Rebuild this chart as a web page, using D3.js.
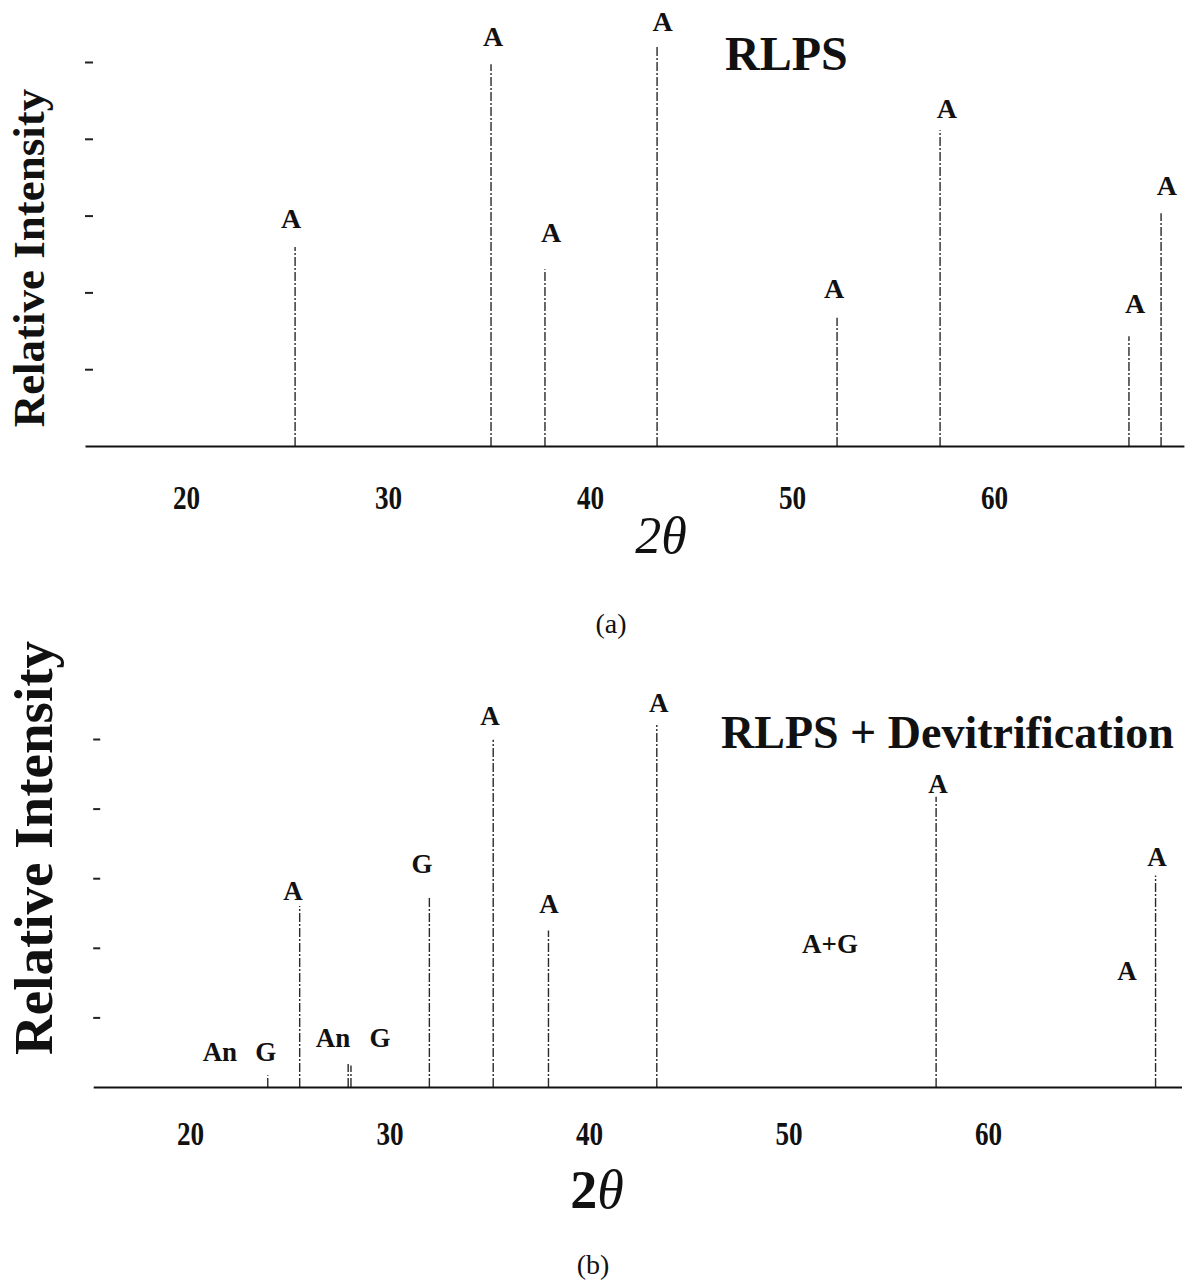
<!DOCTYPE html>
<html>
<head>
<meta charset="utf-8">
<script src="https://cdn.jsdelivr.net/npm/d3@7"></script>
<style>
  html, body { margin: 0; padding: 0; background: #fff; }
  svg { display: block; }
  text { font-family: "Liberation Serif", "DejaVu Serif", serif; fill: #111; }
</style>
</head>
<body>
<svg id="chart" width="1188" height="1285"></svg>
<script>
// X-ray diffraction stick patterns: 2θ (degrees) vs relative intensity
const xTickValues = [20, 30, 40, 50, 60];
const yTickValues = [1, 2, 3, 4, 5];

// (a) RLPS
const rlpsTheta     = [25.40, 35.10, 37.77, 43.32, 52.23, 57.33, 66.68, 68.27];
const rlpsIntensity = [2.59, 4.97, 2.30, 5.22, 1.67, 4.11, 1.43, 3.03];
const rlpsLabelText  = ["A", "A", "A", "A", "A", "A", "A", "A"];
const rlpsLabelTheta = [25.20, 35.20, 38.07, 43.60, 52.08, 57.67, 66.98, 68.56];
const rlpsLabelLevel = [2.84, 5.21, 2.66, 5.40, 1.93, 4.27, 1.73, 3.27];

// (b) RLPS + Devitrification
const devitTheta     = [23.90, 25.50, 27.93, 28.07, 32.00, 35.20, 37.97, 43.40, 57.40, 68.40];
const devitIntensity = [0.17, 2.60, 0.33, 0.31, 2.72, 4.99, 2.25, 5.20, 4.17, 3.04];
const devitLabelText  = ["An", "G", "A", "An", "G", "G", "A", "A", "A", "A+G", "A", "A", "A"];
const devitLabelTheta = [21.50, 23.80, 25.16, 27.17, 29.52, 31.63, 35.04, 38.00, 43.50, 52.08, 57.49, 66.97, 68.47];
const devitLabelLevel = [0.37, 0.37, 2.69, 0.57, 0.57, 3.07, 5.20, 2.50, 5.39, 1.93, 4.22, 1.54, 3.18];

const svg = d3.select("#chart");

function drawPanel(cfg) {
  const x = d3.scaleLinear().domain(cfg.xDomain).range(cfg.xRange);
  const y = d3.scaleLinear().domain([0, 5]).range(cfg.yRange);
  const g = svg.append("g");

  // intensity tick marks (no axis line, no labels)
  const yAxis = g.append("g")
    .attr("transform", `translate(${cfg.xRange[0]},0)`)
    .call(d3.axisRight(y).tickValues(yTickValues).tickSize(cfg.yTickSize).tickFormat(""));
  yAxis.select(".domain").remove();
  yAxis.selectAll(".tick line").attr("stroke", "#222").attr("stroke-width", 2);

  // peaks
  g.append("g").selectAll("line")
    .data(cfg.theta.map((t, i) => ({ t, v: cfg.intensity[i] })))
    .join("line")
    .attr("x1", d => x(d.t)).attr("x2", d => x(d.t))
    .attr("y1", y(0)).attr("y2", d => y(d.v))
    .attr("stroke", "#2a2a2a")
    .attr("stroke-width", 1.4)
    .attr("stroke-dasharray", "9,2,2,2");

  // 2θ axis
  const xAxis = g.append("g")
    .attr("transform", `translate(0,${cfg.yRange[0]})`)
    .call(d3.axisBottom(x).tickValues(xTickValues).tickSize(0).tickSizeOuter(0).tickPadding(0));
  xAxis.select(".domain").attr("stroke", "#111").attr("stroke-width", 2.2);
  xAxis.selectAll(".tick text")
    .attr("y", 0).attr("dy", 0)
    .attr("transform", `translate(0,${cfg.tickLabelDy}) scale(0.8,1)`)
    .style("font-size", "34px")
    .style("font-weight", "bold")
    .style("font-family", '"Liberation Serif", serif')
    .attr("fill", "#111");

  // phase labels
  g.append("g").selectAll("text")
    .data(cfg.labelText.map((s, i) => ({ s, t: cfg.labelTheta[i], v: cfg.labelLevel[i] })))
    .join("text")
    .attr("x", d => x(d.t))
    .attr("y", d => y(d.v))
    .attr("text-anchor", "middle")
    .style("font-size", cfg.labelSize + "px")
    .style("font-weight", "bold")
    .text(d => d.s);

  // title
  g.append("text")
    .attr("x", cfg.titleX).attr("y", cfg.titleY)
    .style("font-size", cfg.titleSize + "px")
    .style("font-weight", "bold")
    .text(cfg.title);

  // y label
  g.append("text")
    .attr("transform", `translate(${cfg.yLabelX},${cfg.yLabelY}) rotate(-90)`)
    .attr("text-anchor", "middle")
    .style("font-size", cfg.yLabelSize + "px")
    .style("font-weight", "bold")
    .text("Relative Intensity");

  // x label
  const xl = g.append("text")
    .attr("x", cfg.xLabelX).attr("y", cfg.xLabelY)
    .attr("text-anchor", "middle")
    .style("font-size", cfg.xLabelSize + "px");
  xl.append("tspan").style("font-weight", cfg.xLabelBold ? "bold" : "normal")
    .style("font-style", cfg.xLabelBold ? "normal" : "italic").text("2");
  xl.append("tspan").style("font-style", "italic").text("θ");

  // panel caption
  g.append("text")
    .attr("x", cfg.capX).attr("y", cfg.capY)
    .attr("text-anchor", "middle")
    .style("font-size", cfg.capSize + "px")
    .text(cfg.caption);
}

drawPanel({
  xDomain: [15, 69.4], xRange: [85, 1183.9],
  yRange: [446, 62], yTickSize: 8,
  theta: rlpsTheta, intensity: rlpsIntensity,
  labelText: rlpsLabelText, labelTheta: rlpsLabelTheta, labelLevel: rlpsLabelLevel, labelSize: 28,
  tickLabelDy: 509 - 446,
  title: "RLPS", titleX: 725, titleY: 70, titleSize: 48,
  yLabelX: 44, yLabelY: 258, yLabelSize: 45,
  xLabelX: 661, xLabelY: 553, xLabelSize: 52, xLabelBold: false,
  caption: "(a)", capX: 611, capY: 633, capSize: 28
});

drawPanel({
  xDomain: [15.15, 69.7], xRange: [93.2, 1181.5],
  yRange: [1087, 739], yTickSize: 7,
  theta: devitTheta, intensity: devitIntensity,
  labelText: devitLabelText, labelTheta: devitLabelTheta, labelLevel: devitLabelLevel, labelSize: 27,
  tickLabelDy: 1145 - 1087,
  title: "RLPS + Devitrification", titleX: 721, titleY: 748, titleSize: 46,
  yLabelX: 52, yLabelY: 848, yLabelSize: 55,
  xLabelX: 597, xLabelY: 1208, xLabelSize: 54, xLabelBold: true,
  caption: "(b)", capX: 593, capY: 1274, capSize: 28
});
</script>
</body>
</html>
